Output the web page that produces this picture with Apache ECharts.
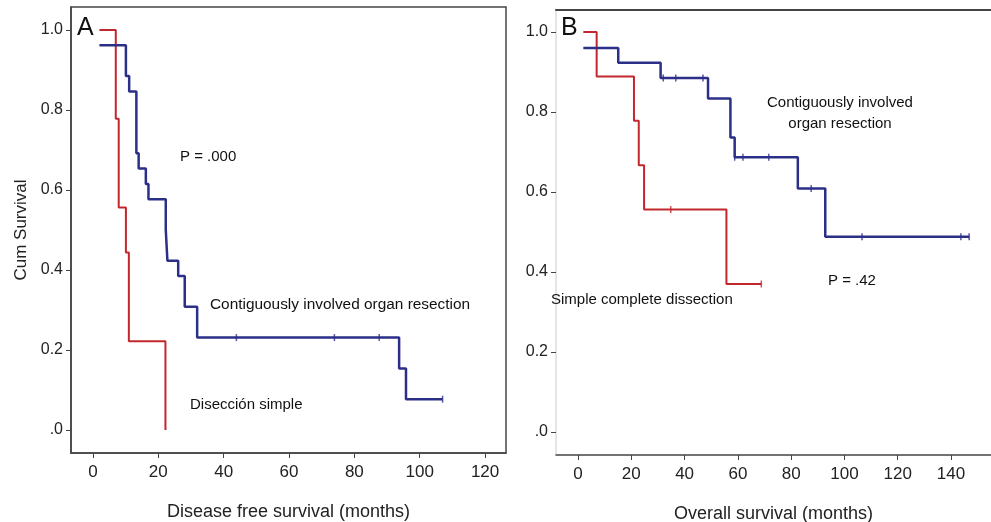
<!DOCTYPE html>
<html>
<head>
<meta charset="utf-8">
<script src="https://cdn.jsdelivr.net/npm/echarts@6/dist/echarts.min.js"></script>
<style>
  html, body { margin: 0; padding: 0; background: #fff; }
  #chart { width: 991px; height: 522px; }
</style>
</head>
<body>
<div id="chart"></div>
<script>
// 坐标刻度
const yTicks = [0, 0.2, 0.4, 0.6, 0.8, 1.0]
const xTicksA = [0, 20, 40, 60, 80, 100, 120]
const xTicksB = [0, 20, 40, 60, 80, 100, 120, 140]

// A: 无病生存 (Disease free survival)
const dfsContigTimes = [2, 10.1, 11.1, 13.3, 14.0, 16.2, 17.0, 22.3, 22.8, 26.1, 28.1, 31.9, 93.7, 95.8, 107]
const dfsContigSurv = [0.962, 0.885, 0.846, 0.692, 0.654, 0.615, 0.577, 0.5, 0.423, 0.385, 0.308, 0.231, 0.154, 0.077, 0.077]
const dfsContigCensorTimes = [43.9, 73.9, 87.6, 107]
const dfsContigCensorSurv = [0.231, 0.231, 0.231, 0.077]

const dfsSimpleTimes = [2, 7.0, 7.9, 10.1, 11.0, 22.2]
const dfsSimpleSurv = [1.0, 0.778, 0.556, 0.444, 0.222, 0.0]

// B: 总生存 (Overall survival)
const osContigTimes = [2, 15.1, 31.0, 48.8, 57.2, 58.8, 82.5, 92.8, 146.8]
const osContigSurv = [0.96, 0.923, 0.885, 0.834, 0.736, 0.687, 0.609, 0.488, 0.488]
const osContigCensorTimes = [32.0, 36.7, 46.9, 58.8, 61.9, 71.6, 87.5, 106.6, 143.7, 146.8]
const osContigCensorSurv = [0.885, 0.885, 0.885, 0.687, 0.687, 0.687, 0.609, 0.488, 0.488, 0.488]

const osSimpleTimes = [2, 7.0, 21.0, 22.8, 24.8, 55.7, 68.8]
const osSimpleSurv = [1.0, 0.889, 0.778, 0.667, 0.556, 0.370, 0.370]
const osSimpleCensorTimes = [34.8, 68.8]
const osSimpleCensorSurv = [0.556, 0.370]

const BLUE = '#2b2f88'
const RED = '#c1272d'
const FONT = 'Liberation Sans, Arial, Helvetica, sans-serif'

const zip = (xs, ys) => xs.map((x, i) => [x, ys[i]])
const yLabel = v => (v === 0 ? '.0' : v.toFixed(1))

const stepLine = (data, color, width, idx) => ({
  type: 'line',
  step: 'end',
  data,
  xAxisIndex: idx,
  yAxisIndex: idx,
  showSymbol: false,
  lineStyle: { color, width },
  silent: true,
  z: 3
})

const censor = (data, color, idx) => ({
  type: 'scatter',
  data,
  xAxisIndex: idx,
  yAxisIndex: idx,
  symbol: 'rect',
  symbolSize: [1.5, 7],
  itemStyle: { color },
  silent: true,
  z: 4
})

const xAxisBase = (gridIndex, min, max, ticks, name) => ({
  type: 'value',
  gridIndex,
  min,
  max,
  name,
  nameLocation: 'middle',
  nameGap: 50,
  nameTextStyle: { fontFamily: FONT, fontSize: 18, color: '#222' },
  axisLine: { show: true, onZero: false, lineStyle: { color: '#444', width: 1.5 } },
  axisTick: { show: true, length: 5, customValues: ticks, lineStyle: { color: '#444' } },
  axisLabel: { customValues: ticks, fontFamily: FONT, fontSize: 17, color: '#222', margin: 11 },
  splitLine: { show: false }
})

const yAxisBase = (gridIndex, min, max, lineColor, name) => ({
  type: 'value',
  gridIndex,
  min,
  max,
  name,
  nameLocation: 'middle',
  nameGap: 41,
  nameTextStyle: { fontFamily: FONT, fontSize: 17, color: '#222' },
  axisLine: { show: true, onZero: false, lineStyle: { color: lineColor, width: 1.5 } },
  axisTick: { show: true, length: 5, customValues: yTicks, lineStyle: { color: '#444' } },
  axisLabel: { customValues: yTicks, formatter: yLabel, fontFamily: FONT, fontSize: 16, color: '#222', margin: 8 },
  splitLine: { show: false }
})

const text = (str, x, y, size, align) => ({
  type: 'text',
  x,
  y,
  style: {
    text: str,
    font: size + 'px ' + FONT,
    fill: '#111',
    textAlign: align || 'left',
    textVerticalAlign: 'middle',
    lineHeight: 21
  },
  z: 10
})

const chart = echarts.init(document.getElementById('chart'), null, { renderer: 'canvas' })

chart.setOption({
  animation: false,
  backgroundColor: '#fff',
  grid: [
    { left: 71, top: 7, width: 435, height: 446, show: true, borderColor: '#444', borderWidth: 1.5, outerBoundsMode: 'none', containLabel: false },
    { left: 556, top: 10, width: 435, height: 445, outerBoundsMode: 'none', containLabel: false }
  ],
  xAxis: [
    xAxisBase(0, -6.7, 126.4, xTicksA, 'Disease free survival (months)'),
    xAxisBase(1, -8.26, 155.0, xTicksB, 'Overall survival (months)'),
    // B 面板顶部边框
    {
      type: 'value', gridIndex: 1, position: 'top', min: 0, max: 1,
      axisLine: { show: true, onZero: false, lineStyle: { color: '#444', width: 2 } },
      axisTick: { show: false }, axisLabel: { show: false }, splitLine: { show: false }
    }
  ],
  yAxis: [
    yAxisBase(0, -0.0575, 1.0575, '#444', 'Cum Survival'),
    yAxisBase(1, -0.0575, 1.055, '#ddd', '')
  ],
  series: [
    stepLine(zip(dfsSimpleTimes, dfsSimpleSurv), RED, 2, 0),
    stepLine(zip(dfsContigTimes, dfsContigSurv), BLUE, 2.5, 0),
    censor(zip(dfsContigCensorTimes, dfsContigCensorSurv), BLUE, 0),
    stepLine(zip(osSimpleTimes, osSimpleSurv), RED, 2, 1),
    censor(zip(osSimpleCensorTimes, osSimpleCensorSurv), RED, 1),
    stepLine(zip(osContigTimes, osContigSurv), BLUE, 2.5, 1),
    censor(zip(osContigCensorTimes, osContigCensorSurv), BLUE, 1)
  ],
  graphic: [
    text('A', 77, 28, 25),
    text('P = .000', 180, 157, 15),
    text('Contiguously involved organ resection', 210, 305, 15.4),
    text('Disección simple', 190, 405, 15),
    text('B', 561, 28, 25),
    text('Contiguously involved\norgan resection', 840, 113, 15, 'center'),
    text('P = .42', 828, 281, 15),
    text('Simple complete dissection', 551, 300, 15)
  ]
})
</script>
</body>
</html>
